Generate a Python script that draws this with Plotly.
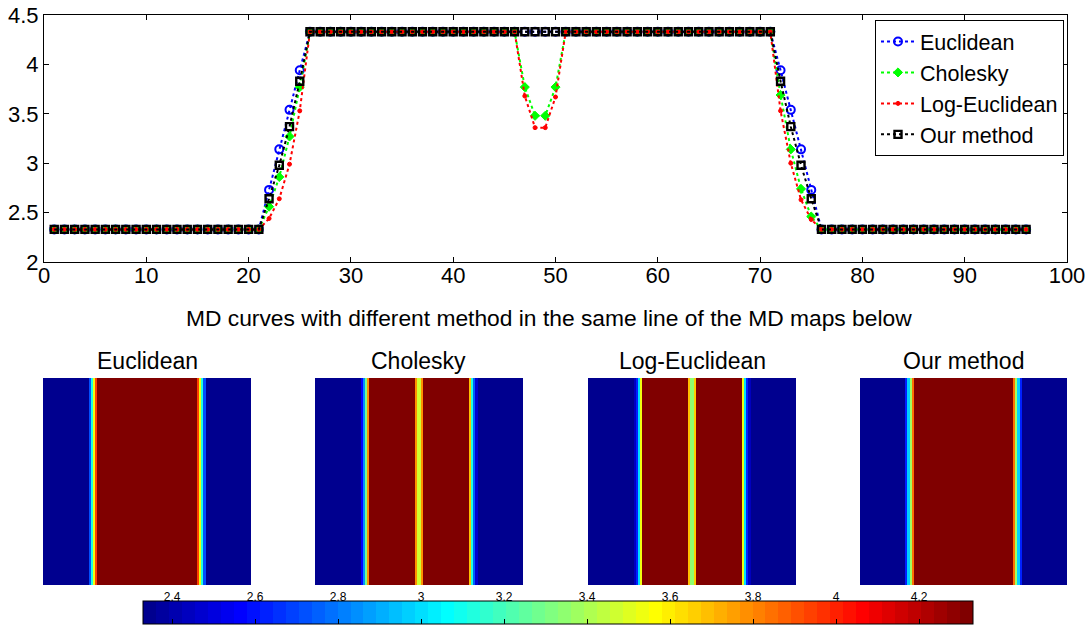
import plotly.graph_objects as go

# ---------------- data ----------------
x_index = list(range(1, 97))

euclidean = [
    2.33, 2.33, 2.33, 2.33, 2.33, 2.33, 2.33, 2.33, 2.33, 2.33,
    2.33, 2.33, 2.33, 2.33, 2.33, 2.33, 2.33, 2.33, 2.33, 2.33,
    2.33, 2.73, 3.14, 3.54, 3.94, 4.33, 4.33, 4.33, 4.33, 4.33,
    4.33, 4.33, 4.33, 4.33, 4.33, 4.33, 4.33, 4.33, 4.33, 4.33,
    4.33, 4.33, 4.33, 4.33, 4.33, 4.33, 4.33, 4.33, 4.33, 4.33,
    4.33, 4.33, 4.33, 4.33, 4.33, 4.33, 4.33, 4.33, 4.33, 4.33,
    4.33, 4.33, 4.33, 4.33, 4.33, 4.33, 4.33, 4.33, 4.33, 4.33,
    4.33, 3.94, 3.54, 3.14, 2.73, 2.33, 2.33, 2.33, 2.33, 2.33,
    2.33, 2.33, 2.33, 2.33, 2.33, 2.33, 2.33, 2.33, 2.33, 2.33,
    2.33, 2.33, 2.33, 2.33, 2.33, 2.33,
]

cholesky = [
    2.33, 2.33, 2.33, 2.33, 2.33, 2.33, 2.33, 2.33, 2.33, 2.33,
    2.33, 2.33, 2.33, 2.33, 2.33, 2.33, 2.33, 2.33, 2.33, 2.33,
    2.33, 2.56, 2.86, 3.27, 3.77, 4.33, 4.33, 4.33, 4.33, 4.33,
    4.33, 4.33, 4.33, 4.33, 4.33, 4.33, 4.33, 4.33, 4.33, 4.33,
    4.33, 4.33, 4.33, 4.33, 4.33, 4.33, 3.77, 3.48, 3.48, 3.77,
    4.33, 4.33, 4.33, 4.33, 4.33, 4.33, 4.33, 4.33, 4.33, 4.33,
    4.33, 4.33, 4.33, 4.33, 4.33, 4.33, 4.33, 4.33, 4.33, 4.33,
    4.33, 3.69, 3.14, 2.74, 2.46, 2.33, 2.33, 2.33, 2.33, 2.33,
    2.33, 2.33, 2.33, 2.33, 2.33, 2.33, 2.33, 2.33, 2.33, 2.33,
    2.33, 2.33, 2.33, 2.33, 2.33, 2.33,
]

log_euclidean = [
    2.33, 2.33, 2.33, 2.33, 2.33, 2.33, 2.33, 2.33, 2.33, 2.33,
    2.33, 2.33, 2.33, 2.33, 2.33, 2.33, 2.33, 2.33, 2.33, 2.33,
    2.33, 2.44, 2.64, 2.99, 3.53, 4.33, 4.33, 4.33, 4.33, 4.33,
    4.33, 4.33, 4.33, 4.33, 4.33, 4.33, 4.33, 4.33, 4.33, 4.33,
    4.33, 4.33, 4.33, 4.33, 4.33, 4.33, 3.68, 3.36, 3.36, 3.67,
    4.33, 4.33, 4.33, 4.33, 4.33, 4.33, 4.33, 4.33, 4.33, 4.33,
    4.33, 4.33, 4.33, 4.33, 4.33, 4.33, 4.33, 4.33, 4.33, 4.33,
    4.33, 3.53, 3.00, 2.63, 2.43, 2.33, 2.33, 2.33, 2.33, 2.33,
    2.33, 2.33, 2.33, 2.33, 2.33, 2.33, 2.33, 2.33, 2.33, 2.33,
    2.33, 2.33, 2.33, 2.33, 2.33, 2.33,
]

our_method = [
    2.33, 2.33, 2.33, 2.33, 2.33, 2.33, 2.33, 2.33, 2.33, 2.33,
    2.33, 2.33, 2.33, 2.33, 2.33, 2.33, 2.33, 2.33, 2.33, 2.33,
    2.33, 2.64, 2.98, 3.37, 3.83, 4.33, 4.33, 4.33, 4.33, 4.33,
    4.33, 4.33, 4.33, 4.33, 4.33, 4.33, 4.33, 4.33, 4.33, 4.33,
    4.33, 4.33, 4.33, 4.33, 4.33, 4.33, 4.33, 4.33, 4.33, 4.33,
    4.33, 4.33, 4.33, 4.33, 4.33, 4.33, 4.33, 4.33, 4.33, 4.33,
    4.33, 4.33, 4.33, 4.33, 4.33, 4.33, 4.33, 4.33, 4.33, 4.33,
    4.33, 3.83, 3.37, 2.98, 2.64, 2.33, 2.33, 2.33, 2.33, 2.33,
    2.33, 2.33, 2.33, 2.33, 2.33, 2.33, 2.33, 2.33, 2.33, 2.33,
    2.33, 2.33, 2.33, 2.33, 2.33, 2.33,
]

method_names = ["Euclidean", "Cholesky", "Log-Euclidean", "Our method"]
x_ticks = [0, 10, 20, 30, 40, 50, 60, 70, 80, 90, 100]
y_ticks = [2, 2.5, 3, 3.5, 4, 4.5]
y_tick_text = ["2", "2.5", "3", "3.5", "4", "4.5"]
cbar_ticks = [2.4, 2.6, 2.8, 3.0, 3.2, 3.4, 3.6, 3.8, 4.0, 4.2]
cbar_tick_text = ["2.4", "2.6", "2.8", "3", "3.2", "3.4", "3.6", "3.8", "4", "4.2"]
subtitle = "MD curves with different method in the same line of the MD maps below"

# ---------------- style ----------------
W, H = 1092, 632
FONT = "Liberation Sans, Arial, Helvetica, sans-serif"


def px_x(p):
    return p / W


def px_y(p):
    return 1 - p / H


def jet(t):
    def c(v):
        return max(0.0, min(1.0, v))
    r = c(min(4 * t - 1.5, -4 * t + 4.5))
    g = c(min(4 * t - 0.5, -4 * t + 3.5))
    b = c(min(4 * t + 0.5, -4 * t + 2.5))
    return f"rgb({round(r*255)},{round(g*255)},{round(b*255)})"


N = 64
jet_scale = []
for k in range(N):
    col = jet((k + 1) / N)
    jet_scale.append([k / N, col])
    jet_scale.append([(k + 1) / N, col])

all_series = [euclidean, cholesky, log_euclidean, our_method]
zmin = min(min(s) for s in all_series)
zmax = max(max(s) for s in all_series)

fig = go.Figure()

styles = [
    dict(color="#0000FF", symbol="circle-open", size=8, lw=2),
    dict(color="#00FF00", symbol="diamond", size=7, lw=1),
    dict(color="#FF0000", symbol="circle", size=4, lw=1),
    dict(color="#000000", symbol="square-open", size=7, lw=2.4),
]

for name, vals, st in zip(method_names, all_series, styles):
    fig.add_trace(go.Scatter(
        x=x_index, y=vals, name=name, mode="lines+markers",
        legendgroup=name,
        line=dict(color=st["color"], width=2, dash="dot"),
        marker=dict(symbol=st["symbol"], size=st["size"], color=st["color"],
                    line=dict(color=st["color"], width=st["lw"])),
        xaxis="x", yaxis="y",
    ))

# heatmaps
panel_x = [(43, 251), (315, 523), (588, 796), (860, 1067)]
panel_y = (378, 585)
for i, (name, vals) in enumerate(zip(method_names, all_series)):
    ax = i + 2
    fig.add_trace(go.Heatmap(
        z=[vals], x=x_index, coloraxis="coloraxis", showlegend=False,
        xaxis=f"x{ax}", yaxis=f"y{ax}", hoverinfo="skip",
    ))
    fig.layout[f"xaxis{ax}"] = dict(domain=[px_x(panel_x[i][0]), px_x(panel_x[i][1])],
                                   anchor=f"y{ax}", visible=False, automargin=False,
                                   range=[0.5, len(vals) + 0.5])
    fig.layout[f"yaxis{ax}"] = dict(domain=[px_y(panel_y[1]), px_y(panel_y[0])],
                                   anchor=f"x{ax}", visible=False, automargin=False)
    fig.add_annotation(x=(px_x(panel_x[i][0]) + px_x(panel_x[i][1])) / 2,
                       y=px_y(361), xref="paper", yref="paper",
                       text=name, showarrow=False, xanchor="center", yanchor="middle",
                       font=dict(size=23, color="black", family=FONT))

# helper axis for colorbar tick labels
cb_left, cb_right, cb_top, cb_bot = 143, 973, 607, 630
fig.add_trace(go.Scatter(x=[], y=[], xaxis="x6", yaxis="y6", showlegend=False))
fig.layout["xaxis6"] = dict(domain=[px_x(cb_left), px_x(cb_right)], anchor="y6",
                            side="top", range=[zmin, zmax], tickvals=cbar_ticks,
                            ticktext=cbar_tick_text, ticks="", showline=False,
                            showgrid=False, zeroline=False, automargin=False,
                            ticklabelstandoff=3, ticklabeloverflow="allow",
                            tickfont=dict(size=12, color="black", family=FONT))
fig.layout["yaxis6"] = dict(domain=[px_y(cb_bot), px_y(cb_top)], anchor="x6",
                            visible=False, automargin=False)

fig.add_annotation(x=px_x(549), y=px_y(318), xref="paper", yref="paper",
                   text=subtitle, showarrow=False, xanchor="center", yanchor="middle",
                   font=dict(size=22.8, color="black", family=FONT))

axis_common = dict(showline=True, linecolor="black", linewidth=1, mirror="ticks",
                   ticks="inside", ticklen=5, tickcolor="black", showgrid=False,
                   zeroline=False, automargin=False, ticklabeloverflow="allow",
                   tickfont=dict(size=22, color="black", family=FONT))

fig.update_layout(
    width=W, height=H,
    margin=dict(l=0, r=0, t=0, b=0, autoexpand=False),
    paper_bgcolor="white", plot_bgcolor="white",
    font=dict(family=FONT, color="black"),
    xaxis=dict(domain=[px_x(44), px_x(1067)], anchor="y", range=[0, 100],
               tickvals=x_ticks, ticklabelstandoff=-6, **axis_common),
    yaxis=dict(domain=[px_y(262), px_y(15)], anchor="x", range=[2, 4.5],
               tickvals=y_ticks, ticktext=y_tick_text, ticklabelstandoff=0, **axis_common),
    coloraxis=dict(
        colorscale=jet_scale, cmin=zmin, cmax=zmax,
        colorbar=dict(orientation="h", x=px_x((cb_left + cb_right) / 2), xanchor="center",
                      y=px_y(cb_bot), yanchor="bottom", len=(cb_right - cb_left) / W,
                      lenmode="fraction", thickness=cb_bot - cb_top, thicknessmode="pixels",
                      xpad=0, ypad=0, outlinewidth=1, outlinecolor="black",
                      ticks="inside", ticklen=5, tickcolor="black", tickvals=cbar_ticks,
                      showticklabels=False),
    ),
    legend=dict(x=px_x(1064), y=px_y(20), xanchor="right", yanchor="top",
                bgcolor="white", bordercolor="black", borderwidth=1,
                font=dict(size=21.5, color="black", family=FONT),
                tracegroupgap=0, traceorder="grouped", itemwidth=34),
    showlegend=True,
)

fig.write_html("out.html", config={"displayModeBar": False},
               post_script="document.body.style.margin='0';document.body.style.overflow='hidden';")
